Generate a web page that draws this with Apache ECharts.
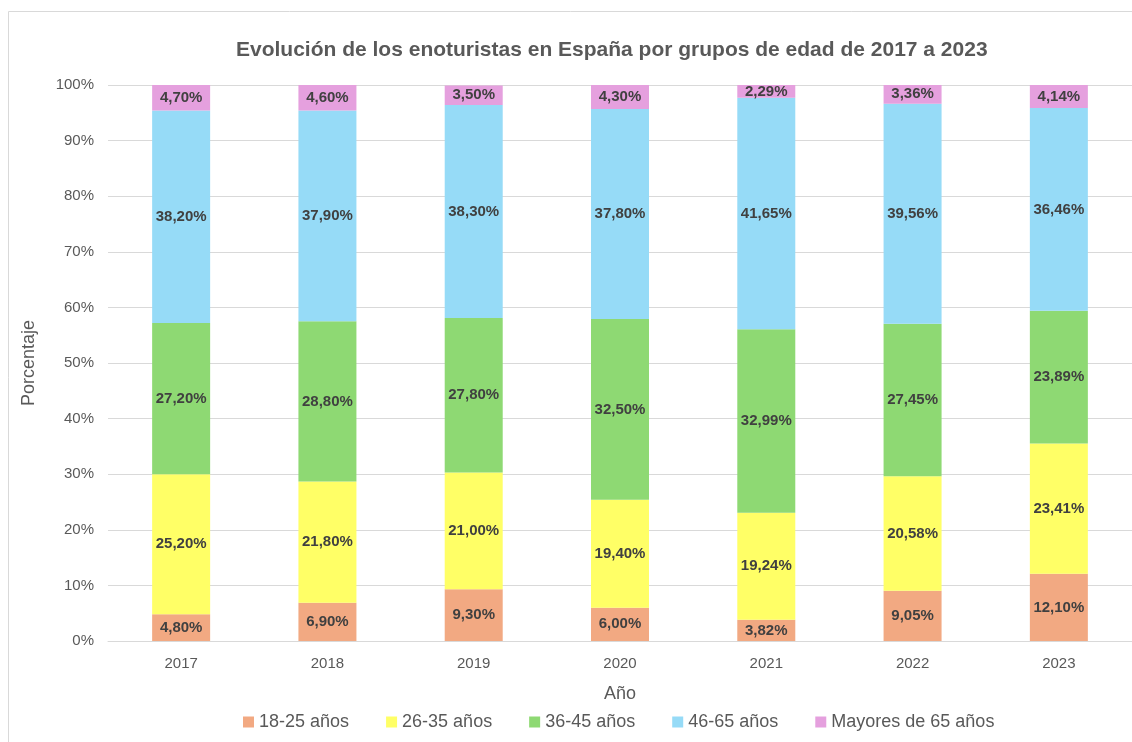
<!DOCTYPE html>
<html>
<head>
<meta charset="utf-8">
<script src="https://cdn.jsdelivr.net/npm/echarts@6/dist/echarts.min.js"></script>
<style>
  html, body { margin: 0; padding: 0; background: #fff; }
  #chart { width: 1132px; height: 742px; }
</style>
</head>
<body>
<div id="chart"></div>
<script>
'use strict'
var years = ['2017', '2018', '2019', '2020', '2021', '2022', '2023']
var seriesNames = ['18-25 años', '26-35 años', '36-45 años', '46-65 años', 'Mayores de 65 años']
var age18_25 = [4.80, 6.90, 9.30, 6.00, 3.82, 9.05, 12.10]
var age26_35 = [25.20, 21.80, 21.00, 19.40, 19.24, 20.58, 23.41]
var age36_45 = [27.20, 28.80, 27.80, 32.50, 32.99, 27.45, 23.89]
var age46_65 = [38.20, 37.90, 38.30, 37.80, 41.65, 39.56, 36.46]
var age65plus = [4.70, 4.60, 3.50, 4.30, 2.29, 3.36, 4.14]
var yTicks = [0, 10, 20, 30, 40, 50, 60, 70, 80, 90, 100]

var colors = ['#F2A982', '#FFFF66', '#8ED973', '#96DBF7', '#E5A0DE']
var allData = [age18_25, age26_35, age36_45, age46_65, age65plus]

var myChart = echarts.init(document.getElementById('chart'))

var series = allData.map(function (d, i) {
	return {
		name: seriesNames[i],
		type: 'bar',
		stack: 'total',
		barWidth: 58,
		data: d,
		itemStyle: { color: colors[i] },
		label: {
			show: true,
			position: 'inside',
			formatter: function (p) { return p.value.toFixed(2).replace('.', ',') + '%' },
			color: '#404040',
			fontWeight: 'bold',
			fontSize: 15,
			fontFamily: 'Liberation Sans, Arial, sans-serif'
		}
	}
})

var option = {
	animation: false,
	textStyle: { fontFamily: 'Liberation Sans, Arial, sans-serif' },
	title: {
		text: 'Evolución de los enoturistas en España por grupos de edad de 2017 a 2023',
		left: 231,
		top: 35,
		textStyle: {
			fontFamily: 'Liberation Sans, Arial, sans-serif',
			fontSize: 21,
			fontWeight: 'bold',
			color: '#595959'
		}
	},
	legend: {
		bottom: 6,
		left: 238,
		itemWidth: 11,
		itemHeight: 11,
		itemGap: 37,
		icon: 'rect',
		textStyle: { color: '#595959', fontSize: 18, fontFamily: 'Liberation Sans, Arial, sans-serif' },
		data: seriesNames
	},
	grid: { left: 108, right: 0, top: 85, bottom: 101 },
	xAxis: {
		type: 'category',
		data: years,
		name: 'Año',
		nameLocation: 'middle',
		nameGap: 44,
		nameTextStyle: { color: '#595959', fontSize: 18 },
		axisTick: { show: false },
		axisLine: { lineStyle: { color: '#d9d9d9' } },
		axisLabel: { color: '#595959', fontSize: 15, margin: 15 }
	},
	yAxis: {
		type: 'value',
		min: yTicks[0],
		max: yTicks[yTicks.length - 1],
		interval: 10,
		name: 'Porcentaje',
		nameLocation: 'middle',
		nameGap: 70,
		nameTextStyle: { color: '#595959', fontSize: 18 },
		axisLabel: { color: '#595959', fontSize: 15, margin: 14, formatter: '{value}%' },
		axisLine: { show: false },
		axisTick: { show: false },
		splitLine: { lineStyle: { color: '#d9d9d9', width: 1 } }
	},
	graphic: [{
		type: 'rect',
		shape: { x: 8.5, y: 11.5, width: 1140, height: 760 },
		style: { fill: 'none', stroke: '#d9d9d9', lineWidth: 1 },
		silent: true,
		z: -1
	}],
	series: series
}
myChart.setOption(option)
window.onresize = myChart.resize
</script>
</body>
</html>
